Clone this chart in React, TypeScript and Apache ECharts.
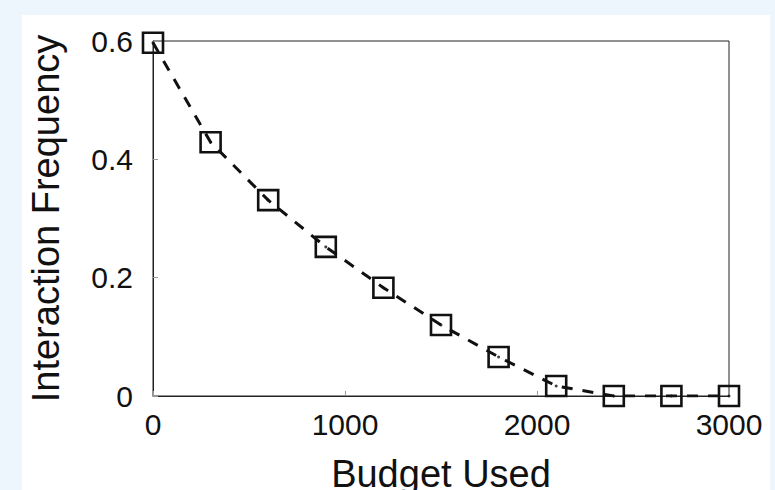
import React, { useEffect, useRef } from "react";
import * as echarts from "echarts";

const budgetUsed = [0, 300, 600, 900, 1200, 1500, 1800, 2100, 2400, 2700, 3000];
const interactionFrequency = [0.597, 0.429, 0.331, 0.252, 0.183, 0.12, 0.066, 0.017, 0, 0, 0];
const xTitle = "Budget Used";
const yTitle = "Interaction Frequency";

export default function App() {
  const ref = useRef<HTMLDivElement>(null);
  useEffect(() => {
    if (!ref.current) return;
    const chart = echarts.init(ref.current, null, { renderer: "svg" });
    const data = budgetUsed.map((x, i) => [x, interactionFrequency[i]]);
    const font = "Liberation Sans, Arial, sans-serif";
    chart.setOption({
      animation: false,
      backgroundColor: "#eef6fd",
      graphic: [
        {
          type: "rect",
          z: -10,
          shape: { x: 22, y: 15, width: 748, height: 480 },
          style: { fill: "#ffffff" },
        },
      ],
      grid: {
        left: 153,
        right: 46,
        top: 41,
        bottom: 94,
        show: true,
        borderColor: "#222",
        borderWidth: 1,
        backgroundColor: "transparent",
        containLabel: false,
        outerBoundsMode: "none",
      },
      xAxis: {
        type: "value",
        min: 0,
        max: 3000,
        interval: 1000,
        name: xTitle,
        nameLocation: "middle",
        nameGap: 59,
        nameTextStyle: { fontFamily: font, fontSize: 38, color: "#111" },
        axisLine: { show: true, lineStyle: { color: "#222", width: 1 } },
        axisTick: { show: true, inside: true, length: 5, lineStyle: { color: "#999" } },
        axisLabel: {
          fontFamily: font,
          fontSize: 30,
          color: "#111",
          margin: 13,
          formatter: (v: number) => String(v),
        },
        splitLine: { show: false },
      },
      yAxis: {
        type: "value",
        min: 0,
        max: 0.6,
        interval: 0.2,
        name: yTitle,
        nameLocation: "middle",
        nameGap: 88,
        nameTextStyle: { fontFamily: font, fontSize: 38, color: "#111" },
        axisLine: { show: true, lineStyle: { color: "#222", width: 1 } },
        axisTick: { show: true, inside: true, length: 5, lineStyle: { color: "#999" } },
        axisLabel: { fontFamily: font, fontSize: 30, color: "#111", margin: 20 },
        splitLine: { show: false },
      },
      series: [
        {
          type: "line",
          data,
          symbol: "rect",
          symbolSize: 20,
          showSymbol: true,
          lineStyle: { color: "#111", width: 3, type: [11, 10] },
          itemStyle: { color: "rgba(0,0,0,0)", borderColor: "#111", borderWidth: 2.6 },
          z: 3,
        },
        {
          type: "scatter",
          data,
          symbol: "circle",
          symbolSize: 3,
          itemStyle: { color: "#111" },
          z: 4,
        },
      ],
    });
    return () => chart.dispose();
  }, []);
  return <div ref={ref} style={{ width: 775, height: 490, position: "absolute", left: 0, top: 0 }} />;
}
